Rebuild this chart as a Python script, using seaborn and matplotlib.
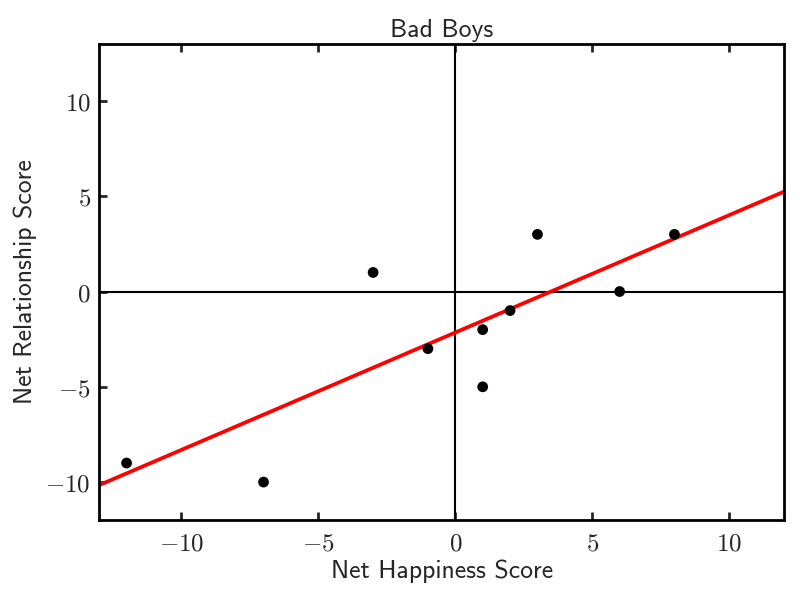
import numpy as np
import pandas as pd
import matplotlib
matplotlib.use("Agg")
import matplotlib.pyplot as plt
import matplotlib.ticker as mticker
import seaborn as sns

# data
happiness = [-12, -7, -3, -1, 1, 1, 2, 3, 6, 8]
relationship = [-9, -10, 1, -3, -2, -5, -1, 3, 0, 3]
fit_slope = 0.616
fit_intercept = -2.15

df = pd.DataFrame({"happiness": happiness, "relationship": relationship})

sns.set_style("white")
plt.rcParams["mathtext.fontset"] = "cm"

fig = plt.figure(figsize=(8, 6), dpi=100)
ax = fig.add_axes([0.124, 0.133, 0.856, 0.794])

ax.axhline(0, color="black", lw=1.5, zorder=1)
ax.axvline(0, color="black", lw=1.5, zorder=1)

sns.scatterplot(data=df, x="happiness", y="relationship", color="black",
                s=60, edgecolor="none", ax=ax, zorder=3)
ax.axline((0, fit_intercept), slope=fit_slope, color="red", lw=2.7, zorder=2)

ax.set_xlim(-13, 12)
ax.set_ylim(-12, 13)
ax.set_xticks([-10, -5, 0, 5, 10])
ax.set_yticks([-10, -5, 0, 5, 10])
fmt = mticker.FuncFormatter(lambda v, p: r"$%d$" % v)
ax.xaxis.set_major_formatter(fmt)
ax.yaxis.set_major_formatter(fmt)
ax.tick_params(axis="x", direction="in", top=True, bottom=True, length=6,
               width=2, labelsize=18, pad=8)
ax.tick_params(axis="y", direction="in", left=True, right=False, length=6,
               width=2, labelsize=18, pad=6)

for sp in ax.spines.values():
    sp.set_linewidth(2)
    sp.set_color("black")

ax.set_title("Bad Boys", fontfamily="cmss10", fontsize=18.5, pad=5)
ax.set_xlabel("Net Happiness Score", fontfamily="cmss10", fontsize=18.5, labelpad=3)
ax.set_ylabel("Net Relationship Score", fontfamily="cmss10", fontsize=18.5, labelpad=6)

fig.savefig("out.png", dpi=100)
